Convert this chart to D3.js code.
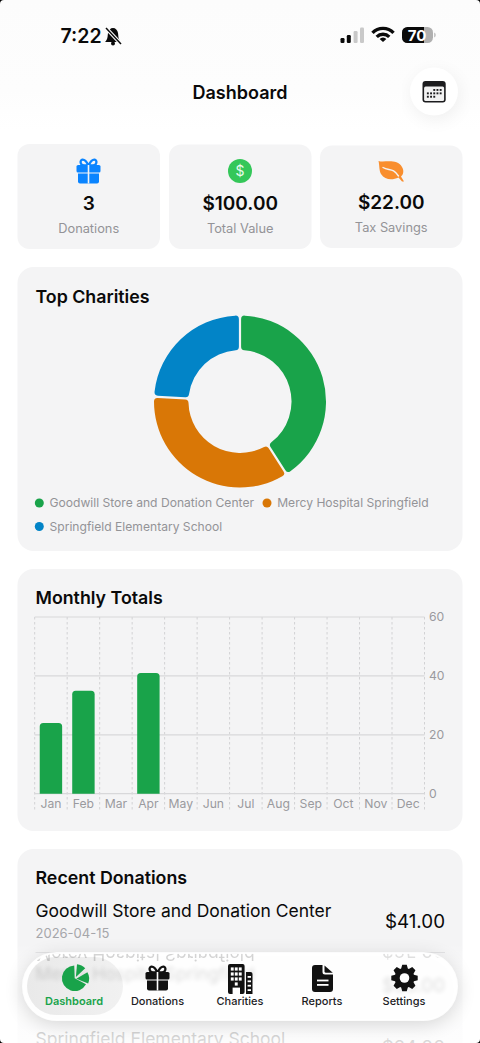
<!DOCTYPE html>
<html>
<head>
<meta charset="utf-8">
<title>Dashboard</title>
<script src="https://cdn.jsdelivr.net/npm/d3@7"></script>
<style>
  html, body { margin: 0; padding: 0; background: #fff; }
  svg { display: block; }
  text { font-family: Inter, "Noto Sans", sans-serif; }
</style>
</head>
<body>
<div id="chart"></div>
<script>
// Values.
var charities = ["Goodwill Store and Donation Center", "Mercy Hospital Springfield", "Springfield Elementary School"];
var charityTotals = [41, 35, 24];
var charityColors = ["#19a34a", "#d97706", "#0284c7"];

var months = ["Jan", "Feb", "Mar", "Apr", "May", "Jun", "Jul", "Aug", "Sep", "Oct", "Nov", "Dec"];
var monthTotals = [24, 35, 0, 41, 0, 0, 0, 0, 0, 0, 0, 0];
var yTicks = [0, 20, 40, 60];

var statValues = ["3", "$100.00", "$22.00"];
var statLabels = ["Donations", "Total Value", "Tax Savings"];

var donationDates = ["2026-04-15"];
var donationAmounts = ["$41.00", "$35.00", "$24.00"];

var tabLabels = ["Dashboard", "Donations", "Charities", "Reports", "Settings"];

var width = 480;
var height = 1043;
var cardFill = "#f4f4f5";
var grey = "#939397";
var ink = "#0a0a0a";
var green = "#19a34a";

var svg = d3.select("#chart").append("svg")
    .attr("width", width)
    .attr("height", height)
    .attr("viewBox", "0 0 " + width + " " + height);

var defs = svg.append("defs");

function blur(id, dev) {
  defs.append("filter").attr("id", id)
      .attr("x", "-20%").attr("y", "-60%").attr("width", "140%").attr("height", "220%")
      .append("feGaussianBlur").attr("stdDeviation", dev);
}
blur("blur-soft", 0.6);
blur("blur-mid", 2);
blur("blur-shadow", 10);
blur("blur-btn", 9);

var fade = defs.append("linearGradient").attr("id", "bottom-fade")
    .attr("x1", 0).attr("x2", 0).attr("y1", 0).attr("y2", 1);
fade.append("stop").attr("offset", 0).attr("stop-color", "#fff").attr("stop-opacity", 0);
fade.append("stop").attr("offset", 0.35).attr("stop-color", "#fff").attr("stop-opacity", 0.6);
fade.append("stop").attr("offset", 1).attr("stop-color", "#fff").attr("stop-opacity", 0.82);

var topFade = defs.append("linearGradient").attr("id", "top-fade")
    .attr("x1", 0).attr("x2", 0).attr("y1", 0).attr("y2", 1);
topFade.append("stop").attr("offset", 0).attr("stop-color", "#fcfcfc");
topFade.append("stop").attr("offset", 0.7).attr("stop-color", "#fdfdfd");
topFade.append("stop").attr("offset", 1).attr("stop-color", "#fff");

var pillFade = defs.append("linearGradient").attr("id", "pill-fade")
    .attr("x1", 0).attr("x2", 1).attr("y1", 0).attr("y2", 0);
pillFade.append("stop").attr("offset", 0).attr("stop-color", "#e9e9e9");
pillFade.append("stop").attr("offset", 1).attr("stop-color", "#f1f1f1");

defs.append("clipPath").attr("id", "bar-clip").append("rect")
    .attr("x", 23).attr("y", 953).attr("width", 434).attr("height", 67).attr("rx", 33.5);

function label(parent, x, y, str, size, weight, fill, anchor) {
  return parent.append("text")
      .attr("x", x).attr("y", y)
      .attr("font-size", size)
      .attr("font-weight", weight)
      .attr("fill", fill)
      .attr("text-anchor", anchor || "start")
      .text(str);
}

function card(x, y, w, h, r) {
  svg.append("rect").attr("x", x).attr("y", y).attr("width", w).attr("height", h)
      .attr("rx", r).attr("fill", cardFill);
}

// page background
svg.append("rect").attr("width", width).attr("height", height).attr("fill", "#fff");
svg.append("rect").attr("width", width).attr("height", 130).attr("fill", "url(#top-fade)");

// ---- status bar ----
label(svg, 60.5, 43, "7:22", 19.5, 600, ink);

var bell = svg.append("g").attr("fill", ink).attr("transform", "translate(113,36)");
bell.append("path").attr("d", "M-8,6 C-5,3 -5.5,0 -5,-3 C-4.5,-6 -2.5,-8 0,-8 C2.5,-8 4.5,-6 5,-3 C5.5,0 5,3 8,6 Z");
bell.append("circle").attr("cy", 7.5).attr("r", 2);
bell.append("line").attr("x1", -7).attr("y1", -8).attr("x2", 8).attr("y2", 8)
    .attr("stroke", "#fdfdfd").attr("stroke-width", 3.6);
bell.append("line").attr("x1", -7).attr("y1", -8).attr("x2", 8).attr("y2", 8)
    .attr("stroke", ink).attr("stroke-width", 1.5);

[[340.5, 38], [346.8, 35], [353.6, 31], [360, 27.6]].forEach(function(b, i) {
  svg.append("rect").attr("x", b[0]).attr("y", b[1]).attr("width", 4)
      .attr("height", 43 - b[1]).attr("rx", 1.2)
      .attr("fill", i < 2 ? ink : "#c9c9c9");
});

var wifi = svg.append("g").attr("fill", "none").attr("stroke", ink)
    .attr("stroke-width", 3).attr("transform", "translate(383,42) scale(1.12)");
wifi.append("path").attr("d", "M-9.4,-8.2 A13,13 0 0 1 9.4,-8.2");
wifi.append("path").attr("d", "M-5.6,-4.6 A8,8 0 0 1 5.6,-4.6");
wifi.append("path").attr("d", "M0,0 L-3,-2.6 A4,4 0 0 1 3,-2.6 Z").attr("fill", ink).attr("stroke", "none");

svg.append("rect").attr("x", 402).attr("y", 27).attr("width", 31).attr("height", 16)
    .attr("rx", 5.5).attr("fill", "#b0b0b0");
defs.append("clipPath").attr("id", "batt-clip").append("rect")
    .attr("x", 402).attr("y", 27).attr("width", 22).attr("height", 16);
svg.append("rect").attr("x", 402).attr("y", 27).attr("width", 31).attr("height", 16)
    .attr("rx", 5.5).attr("fill", ink).attr("clip-path", "url(#batt-clip)");
svg.append("path").attr("d", "M434.3,32.5 A3,3 0 0 1 434.3,37.5 Z").attr("fill", "#b0b0b0");
label(svg, 417, 40.5, "70", 15, 700, "#fff", "middle");

// ---- header ----
label(svg, 240, 98.5, "Dashboard", 18, 600, ink, "middle");

svg.append("circle").attr("cx", 436).attr("cy", 96).attr("r", 24)
    .attr("fill", "#000").attr("opacity", 0.06).attr("filter", "url(#blur-btn)");
svg.append("circle").attr("cx", 434).attr("cy", 91.5).attr("r", 24).attr("fill", "#fff");

var cal = svg.append("g").attr("transform", "translate(422.5,81)");
cal.append("rect").attr("width", 23.2).attr("height", 21.6).attr("rx", 3).attr("fill", "#1c1c1e");
cal.append("rect").attr("x", 1.6).attr("y", 5.6).attr("width", 20).attr("height", 14.4).attr("rx", 1.5).attr("fill", "#f2f2f2");
d3.range(3).forEach(function(r) {
  d3.range(5).forEach(function(c) {
    if (r === 0 && c < 2) return;
    if (r === 2 && c > 2) return;
    cal.append("rect").attr("x", 4.4 + c * 3.2).attr("y", 8 + r * 3.4)
        .attr("width", 1.9).attr("height", 1.9).attr("fill", "#1c1c1e");
  });
});

// ---- stat cards ----
var statX = [17.5, 169, 320];
var statY = [144, 144.5, 145.5];
var statH = [105, 104.5, 102.5];
statValues.forEach(function(v, i) {
  var cx = statX[i] + 71.2;
  card(statX[i], statY[i], 142.5, statH[i], 12);
  label(svg, cx, i === 2 ? 208.5 : 210, v, 19, 600, ink, "middle");
  label(svg, cx, i === 2 ? 232 : 233, statLabels[i], 12.8, 400, grey, "middle");
});

// gift glyph, also used in the tab bar
function gift(cx, top, k, fill, gap) {
  var g = svg.append("g").attr("transform", "translate(" + cx + "," + top + ") scale(" + k + ")");
  g.append("path").attr("fill", "none").attr("stroke", fill).attr("stroke-width", 2.3)
      .attr("d", "M0,7 C-2,3 -4,1 -6,1.2 C-9,1.6 -8.6,7 -4,7 Z M0,7 C2,3 4,1 6,1.2 C9,1.6 8.6,7 4,7 Z");
  g.append("rect").attr("x", -12).attr("y", 6.5).attr("width", 24).attr("height", 7.5).attr("rx", 1.6).attr("fill", fill);
  g.append("path").attr("fill", fill)
      .attr("d", "M-10.5,15 H10.5 V23 A2,2 0 0 1 8.5,25 H-8.5 A2,2 0 0 1 -10.5,23 Z");
  g.append("rect").attr("x", -0.8).attr("y", 6.5).attr("width", 1.6).attr("height", 18.5).attr("fill", gap);
}
gift(88.5, 158.5, 1, "#0a84ff", cardFill);

svg.append("circle").attr("cx", 240).attr("cy", 171).attr("r", 12).attr("fill", "#34c759");
label(svg, 240, 176, "$", 14, 400, "#e9fbee", "middle");

svg.append("path").attr("fill", "#f98e2e")
    .attr("d", "M378.5,161 C384,163 397,158 402,167 C404.5,171 403,175 401,176.5 L404,181.5 L402,181.5 L398.5,177.5 C392,180.5 385,180 381,174 C379,171 379.5,165 378.5,161 Z");
svg.append("path").attr("fill", "none").attr("stroke", cardFill).attr("stroke-width", 1.4).attr("stroke-linecap", "round")
    .attr("d", "M383,167.5 C389,171 393,167.5 398.5,176");

// ---- top charities ----
card(17.5, 267, 445, 284, 16);
label(svg, 35.5, 303, "Top Charities", 17.8, 600, ink);

var pie = d3.pie().sort(null).padAngle(0.022);
var arc = d3.arc().innerRadius(51.5).outerRadius(86).cornerRadius(3.5);

svg.append("g")
    .attr("transform", "translate(240,401.5)")
    .selectAll("path")
    .data(pie(charityTotals))
    .join("path")
    .attr("d", arc)
    .attr("fill", function(d, i) { return charityColors[i]; });

var legendPos = [[39.3, 503], [267, 503], [39.3, 526.5]];
charities.forEach(function(name, i) {
  svg.append("circle").attr("cx", legendPos[i][0]).attr("cy", legendPos[i][1]).attr("r", 4.5)
      .attr("fill", charityColors[i]);
  label(svg, legendPos[i][0] + 10.2, legendPos[i][1] + 4.3, name, 12.1, 400, grey);
});

// ---- monthly totals ----
card(17.5, 569, 445, 262, 16);
label(svg, 35.5, 604, "Monthly Totals", 17.8, 600, ink);

var plotLeft = 34.7, plotRight = 424.5, plotTop = 617, plotBottom = 793.7, plotFoot = 811;

var x = d3.scaleBand().domain(months).range([plotLeft, plotRight])
    .paddingInner(0.31).paddingOuter(0.155);
var y = d3.scaleLinear().domain([0, 60]).range([plotBottom, plotTop]);
var step = x.step();

var plot = svg.append("g");

// vertical dashed grid, one line per month edge
plot.append("g").selectAll("line")
    .data(d3.range(months.length + 1))
    .join("line")
    .attr("x1", function(i) { return plotLeft + i * step; })
    .attr("x2", function(i) { return plotLeft + i * step; })
    .attr("y1", plotTop)
    .attr("y2", plotFoot)
    .attr("stroke", "#d2d2d4")
    .attr("stroke-width", 1)
    .attr("stroke-dasharray", "2.5,2.5");

// horizontal grid
plot.append("g").selectAll("line")
    .data(yTicks)
    .join("line")
    .attr("x1", plotLeft)
    .attr("x2", plotRight)
    .attr("y1", function(d) { return y(d); })
    .attr("y2", function(d) { return y(d); })
    .attr("stroke", "#d8d8da")
    .attr("stroke-width", 1.2);

plot.append("g").selectAll("path")
    .data(monthTotals.map(function(v, i) { return { month: months[i], value: v }; })
        .filter(function(d) { return d.value > 0; }))
    .join("path")
    .attr("fill", green)
    .attr("d", function(d) {
      var x0 = x(d.month), x1 = x0 + x.bandwidth(), top = y(d.value), r = 3.5;
      return "M" + x0 + "," + y(0) + "V" + (top + r) + "Q" + x0 + "," + top + " " + (x0 + r) + "," + top +
          "H" + (x1 - r) + "Q" + x1 + "," + top + " " + x1 + "," + (top + r) + "V" + y(0) + "Z";
    });

var yAxis = d3.axisRight(y).tickValues(yTicks).tickSize(0).tickPadding(0);
var yAxisG = plot.append("g").attr("transform", "translate(429,0)").call(yAxis);
yAxisG.select(".domain").remove();
yAxisG.selectAll("text").attr("font-size", 12.2).attr("fill", "#9a9a9e")
    .style("font-family", "Inter, sans-serif");

var xAxis = d3.axisBottom(x).tickSize(0).tickPadding(0);
var xAxisG = plot.append("g").attr("transform", "translate(0," + (plotBottom + 5.5) + ")").call(xAxis);
xAxisG.select(".domain").remove();
xAxisG.selectAll("text").attr("font-size", 12.2).attr("fill", "#9a9a9e")
    .style("font-family", "Inter, sans-serif");

// ---- recent donations ----
card(17.5, 849, 445, 240, 16);
label(svg, 35.5, 883.5, "Recent Donations", 17.8, 600, ink);
label(svg, 35.5, 916.5, charities[0], 17.5, 400, ink);
label(svg, 35.5, 938, donationDates[0], 13, 400, "#a6a6aa");
label(svg, 445, 928, donationAmounts[0], 18.8, 400, ink, "end");
svg.append("line").attr("x1", 35.5).attr("x2", 445).attr("y1", 952.5).attr("y2", 952.5)
    .attr("stroke", "#dedee0");

label(svg, 35.5, 1044.5, charities[2], 17.5, 400, "#333");
label(svg, 445, 1054, donationAmounts[2], 18.8, 400, "#333", "end");

svg.append("rect").attr("y", 943).attr("width", width).attr("height", 100).attr("fill", "url(#bottom-fade)");

// ---- floating tab bar ----
svg.append("rect").attr("x", 23).attr("y", 957).attr("width", 434).attr("height", 67).attr("rx", 33.5)
    .attr("fill", "#000").attr("opacity", 0.16).attr("filter", "url(#blur-shadow)");
svg.append("rect").attr("x", 23).attr("y", 953).attr("width", 434).attr("height", 67).attr("rx", 33.5)
    .attr("fill", "#fff").attr("fill-opacity", 0.97);

var under = svg.append("g").attr("clip-path", "url(#bar-clip)");
under.append("rect").attr("x", 27).attr("y", 957).attr("width", 96).attr("height", 58).attr("rx", 29)
    .attr("fill", "url(#pill-fade)");
label(under, 35.5, 980, charities[1], 17.5, 400, "#000", "start")
    .attr("opacity", 0.14).attr("filter", "url(#blur-mid)");
label(under, 445, 992, donationAmounts[1], 18.8, 400, "#000", "end")
    .attr("opacity", 0.13).attr("filter", "url(#blur-mid)");
// glass bar mirrors the row at its top edge
label(under, 35.5, 0, charities[1], 17.5, 400, "#000", "start")
    .attr("transform", "translate(0,948) scale(1,-1)")
    .attr("opacity", 0.17).attr("filter", "url(#blur-soft)");
label(under, 445, 0, donationAmounts[1], 18.8, 400, "#000", "end")
    .attr("transform", "translate(0,944) scale(1,-1)")
    .attr("opacity", 0.12).attr("filter", "url(#blur-soft)");

svg.append("rect").attr("x", 23).attr("y", 953).attr("width", 434).attr("height", 67).attr("rx", 33.5)
    .attr("fill", "none").attr("stroke", "#fff").attr("stroke-width", 2).attr("opacity", 0.9);

var tabX = [74, 157.5, 240, 322, 404];
tabLabels.forEach(function(t, i) {
  label(svg, tabX[i], 1005, t, 11, i === 0 ? 600 : 500, i === 0 ? green : "#1c1c1e", "middle");
});

// dashboard tab: pie glyph
var pieIcon = svg.append("g").attr("transform", "translate(74.7,978.3)");
var iconArc = d3.arc().innerRadius(0).outerRadius(12.8);
var deg = Math.PI / 180;
[[118, 358, 0, 0], [5, 47, 1.2, -1.2], [60, 112, 1.6, 0.4]].forEach(function(s) {
  pieIcon.append("path")
      .attr("transform", "translate(" + s[2] + "," + s[3] + ")")
      .attr("fill", green)
      .attr("d", iconArc({ startAngle: s[0] * deg, endAngle: s[1] * deg }));
});

gift(157.5, 965.5, 1, "#111", "#fff");

// charities tab: building glyph
var bld = svg.append("g").attr("transform", "translate(228,964)");
bld.append("rect").attr("width", 16.6).attr("height", 30).attr("rx", 2).attr("fill", "#111");
bld.append("path").attr("fill", "#111").attr("d", "M18,8 H22.5 A2,2 0 0 1 24.5,10 V30 H18 Z");
d3.range(4).forEach(function(r) {
  d3.range(3).forEach(function(c) {
    if (r === 3 && c !== 1) return;
    bld.append("rect").attr("x", 2.8 + c * 4).attr("y", 3.4 + r * 5)
        .attr("width", 2.9).attr("height", 3.2).attr("fill", "#fff");
  });
});
bld.append("rect").attr("x", 4.6).attr("y", 23.6).attr("width", 7.4).attr("height", 6.4).attr("fill", "#fff");
d3.range(4).forEach(function(r) {
  bld.append("rect").attr("x", 19.6).attr("y", 12 + r * 4.4).attr("width", 3.4).attr("height", 1.8).attr("fill", "#fff");
});

// reports tab: document glyph
var doc = svg.append("g").attr("transform", "translate(312,965)");
doc.append("path").attr("fill", "#111")
    .attr("d", "M3,0 H10.5 V7 A2.5,2.5 0 0 0 13,9.5 H21 V24 A3,3 0 0 1 18,27 H3 A3,3 0 0 1 0,24 V3 A3,3 0 0 1 3,0 Z");
doc.append("path").attr("fill", "#111").attr("d", "M12.5,0.4 L20.8,7.8 H14 A1.5,1.5 0 0 1 12.5,6.3 Z");
doc.append("rect").attr("x", 5).attr("y", 14.6).attr("width", 11.5).attr("height", 1.8).attr("fill", "#fff");
doc.append("rect").attr("x", 5).attr("y", 19).attr("width", 11.5).attr("height", 1.8).attr("fill", "#fff");

// settings tab: gear glyph
var gearPts = [];
d3.range(8).forEach(function(i) {
  var a = i * Math.PI / 4 - Math.PI / 2;
  var w = 0.24, w2 = 0.17;
  gearPts.push([a - w - 0.1, 10], [a - w2, 13.4], [a + w2, 13.4], [a + w + 0.1, 10]);
});
var gear = svg.append("g").attr("transform", "translate(404.5,978)");
gear.append("path").attr("fill", "#111")
    .attr("d", d3.line()(gearPts.map(function(p) { return [p[1] * Math.cos(p[0]), p[1] * Math.sin(p[0])]; })) + "Z");
gear.append("circle").attr("r", 4.8).attr("fill", "#fff");

// rounded screen corners
["M0,0 H4 A4,4 0 0 0 0,4 Z",
 "M480,0 H476 A4,4 0 0 1 480,4 Z",
 "M0,1043 H4 A4,4 0 0 1 0,1039 Z",
 "M480,1043 H476 A4,4 0 0 0 480,1039 Z"].forEach(function(d) {
  svg.append("path").attr("d", d).attr("fill", "#000");
});
</script>
</body>
</html>
